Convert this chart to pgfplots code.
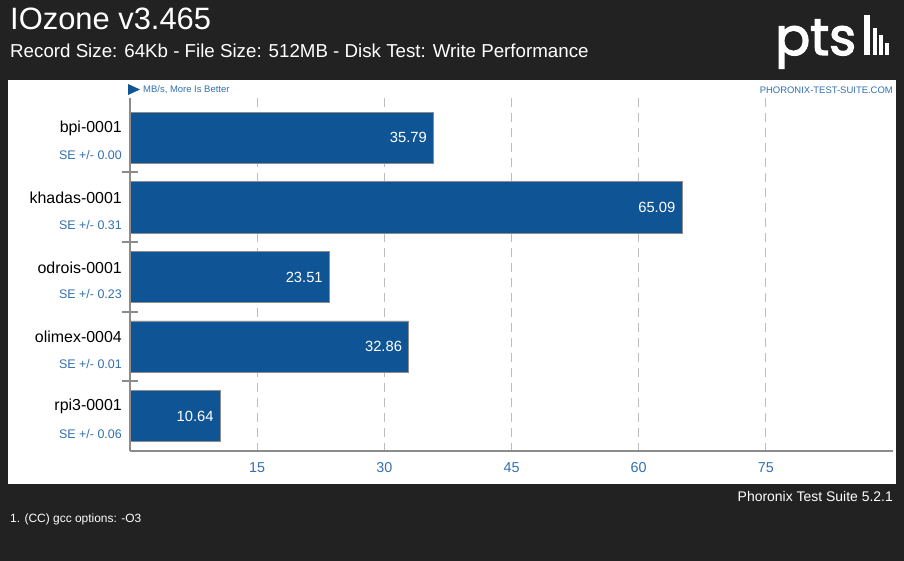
\documentclass[border=0pt]{standalone}
\usepackage{pgfplots}
\pgfplotsset{compat=1.18}
\usepackage{fontspec}
\setmainfont{Liberation Sans}
\newfontfamily\logofont{Poppins}[FakeBold=2.5]
\definecolor{bg}{HTML}{222222}
\definecolor{barblue}{HTML}{0F5494}
\definecolor{txtblue}{HTML}{3470B2}
\definecolor{gridgray}{HTML}{BDBDBD}
\definecolor{axisgray}{HTML}{8C8C8C}
\begin{document}
\begin{tikzpicture}[x=1bp,y=1bp]
\fill[bg] (0,0) rectangle (904,561);
\fill[white] (8,77) rectangle (896,481);
% header
\node[anchor=base west, text=white, inner sep=0, font=\fontsize{31}{36}\selectfont] at (10,561-30) {IOzone v3.465};
\node[anchor=base west, text=white, inner sep=0, font=\fontsize{18.8}{22}\selectfont] at (10,561-58) {Record Size: 64Kb - File Size: 512MB - Disk Test: Write Performance};
% logo
\node[anchor=base west, text=white, inner sep=0, font=\logofont\fontsize{52}{56}\selectfont] at (775,561-55) {pts};
\fill[white] (864,561-55) rectangle (870,561-15);
\fill[white] (873,561-55) rectangle (877,561-28);
\fill[white] (879,561-55) rectangle (883,561-35);
\fill[white] (885,561-55) rectangle (889,561-43);
% panel texts
\fill[barblue] (128,561-84) -- (140,561-89.5) -- (128,561-95) -- cycle;
\node[anchor=west, text=txtblue, inner sep=0, font=\fontsize{9.5}{11}\selectfont] at (143,561-90) {MB/s, More Is Better};
\node[anchor=east, text=txtblue, inner sep=0, font=\fontsize{9.5}{11}\selectfont] at (893,561-90) {PHORONIX-TEST-SUITE.COM};
% footer
\node[anchor=east, text=white, inner sep=0, font=\fontsize{14}{16}\selectfont] at (893,561-497) {Phoronix Test Suite 5.2.1};
\node[anchor=west, text=white, inner sep=0, font=\fontsize{12}{14}\selectfont] at (10,561-519) {1. (CC) gcc options: -O3};
\begin{axis}[
  at={(130bp,110bp)}, anchor=south west,
  scale only axis, width=763bp, height=353bp,
  xbar, bar width=0.735,
  xmin=0, xmax=90,
  ymin=-0.57, ymax=4.5, y dir=reverse,
  axis x line*=bottom, axis y line*=left,
  axis line style={-, axisgray, line width=1.5bp},
  xtick={15,30,45,60,75},
  xtick style={draw=none},
  xmajorgrids, grid style={dashed, gridgray, line width=0.8bp, dash pattern=on 9bp off 6bp},
  xticklabel style={text=txtblue, font=\fontsize{14.4}{16}\selectfont},
  /pgf/number format/assume math mode=true,
  ytick={0.5,1.5,2.5,3.5}, yticklabels={},
  ytick style={axisgray, line width=2bp},
  major tick length=16bp, tick align=center,
  clip=false,
  nodes near coords={\pgfmathprintnumber[fixed,precision=2,fixed zerofill]{\pgfplotspointmeta}},
  every node near coord/.append style={anchor=east, text=white, font=\fontsize{14.8}{16}\selectfont, xshift=-3bp},
]
\addplot[fill=barblue, draw=axisgray, line width=0.6bp] coordinates {
 (35.79,0) (65.09,1) (23.51,2) (32.86,3) (10.64,4)};
\foreach \i/\n/\s in {0/bpi-0001/0.00, 1/khadas-0001/0.31, 2/odrois-0001/0.23, 3/olimex-0004/0.01, 4/rpi3-0001/0.06} {
  \edef\tmp{\noexpand\node[anchor=east, inner sep=0, font=\noexpand\fontsize{16}{18}\noexpand\selectfont] at (axis cs:0,\i) [xshift=-8bp, yshift=9.5bp] {\n};
  \noexpand\node[anchor=east, inner sep=0, text=txtblue, font=\noexpand\fontsize{12.5}{14}\noexpand\selectfont] at (axis cs:0,\i) [xshift=-8bp, yshift=-17.5bp] {SE +/- \s};}
  \tmp
}
\end{axis}
\end{tikzpicture}
\end{document}
